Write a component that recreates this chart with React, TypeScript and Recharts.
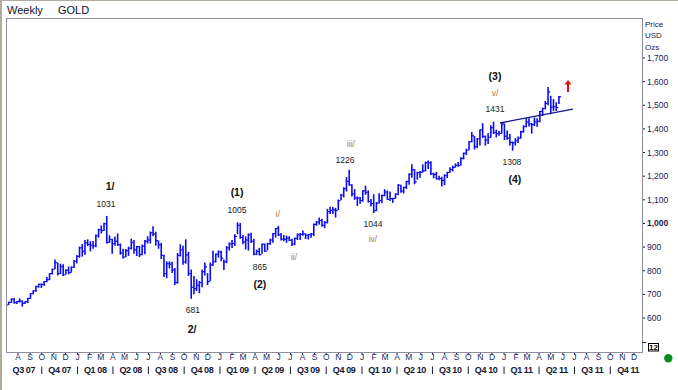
import React from "react";
import {
  ComposedChart,
  Bar,
  XAxis,
  YAxis,
  ReferenceLine,
  ReferenceDot,
} from "recharts";

const FONT = '"Liberation Sans", Arial, sans-serif';
const BAR_BLUE = "#0c0cf0";
const INK = "#141838";

// weekly bars, week 0 = 2 Jul 2007
const HIGH = [
  664,
  669, 683, 685, 672, 683, 675, 671, 685, 705, 717, 737, 745, 746, 757, 773, 790, 809, 848, 834, 830, 827, 806, 818, 818, 845, 866,
  902, 913, 930, 933, 925, 926, 953, 978, 992, 1003, 1032, 950, 935, 945, 958, 915, 893, 892, 902, 936, 930, 905, 905, 911, 930, 946,
  966, 988, 965, 928, 918, 868, 840, 840, 838, 812, 875, 912, 906, 933, 880, 805, 778, 764, 757, 805, 835, 790, 835, 885, 873, 886,
  885, 848, 905, 920, 930, 955, 1005, 1002, 951, 945, 958, 961, 935, 890, 897, 915, 915, 918, 935, 960, 981, 990, 960, 951, 948, 946,
  935, 940, 958, 960, 970, 958, 955, 960, 1000, 1010, 1025, 1020, 1010, 1062, 1071, 1070, 1066, 1101, 1125, 1153, 1196, 1227, 1166, 1145, 1114, 1112,
  1140, 1160, 1140, 1104, 1124, 1091, 1128, 1123, 1145, 1139, 1135, 1108, 1128, 1167, 1164, 1155, 1180, 1212, 1250, 1230, 1219, 1222, 1250, 1262, 1266, 1263,
  1215, 1218, 1202, 1198, 1208, 1218, 1238, 1245, 1254, 1260, 1280, 1300, 1316, 1349, 1387, 1370, 1361, 1398, 1424, 1372, 1382, 1415, 1431, 1397, 1392, 1424,
  1423, 1393, 1378, 1347, 1361, 1368, 1392, 1415, 1446, 1445, 1425, 1448, 1445, 1476, 1490, 1518, 1577, 1540, 1526, 1513, 1539,
];

const LOW = [
  647,
  655, 664, 660, 659, 665, 648, 659, 663, 680, 700, 710, 728, 727, 735, 751, 760, 784, 806, 780, 786, 778, 784, 785, 792, 812, 831,
  855, 860, 868, 904, 882, 893, 899, 940, 958, 968, 915, 918, 872, 906, 905, 868, 852, 857, 863, 890, 872, 862, 858, 866, 870, 915,
  915, 946, 906, 893, 849, 773, 768, 810, 790, 740, 745, 860, 825, 830, 778, 681, 700, 714, 705, 730, 780, 740, 756, 820, 835, 855,
  840, 803, 832, 885, 896, 905, 955, 935, 912, 890, 885, 917, 865, 866, 865, 872, 880, 886, 910, 918, 940, 947, 928, 925, 918, 925,
  905, 908, 930, 930, 948, 934, 932, 940, 947, 990, 995, 986, 980, 1000, 1040, 1040, 1025, 1057, 1098, 1110, 1135, 1160, 1114, 1100, 1074, 1083,
  1092, 1121, 1088, 1072, 1044, 1052, 1084, 1086, 1115, 1100, 1095, 1087, 1105, 1120, 1130, 1127, 1146, 1164, 1193, 1166, 1185, 1193, 1215, 1220, 1230, 1205,
  1191, 1186, 1183, 1156, 1162, 1192, 1214, 1220, 1236, 1240, 1245, 1271, 1290, 1310, 1343, 1313, 1318, 1330, 1362, 1329, 1336, 1363, 1378, 1364, 1371, 1380,
  1353, 1354, 1330, 1308, 1329, 1340, 1358, 1384, 1407, 1410, 1380, 1412, 1409, 1428, 1455, 1483, 1500, 1462, 1475, 1476, 1505,
];

const CLOSE = [
  655,
  666, 680, 665, 670, 672, 662, 669, 683, 703, 715, 733, 743, 742, 754, 762, 788, 806, 834, 788, 817, 783, 802, 792, 815, 840, 861,
  897, 882, 918, 911, 908, 905, 948, 974, 970, 999, 920, 932, 914, 925, 910, 875, 858, 885, 895, 920, 888, 902, 868, 904, 925, 930,
  960, 955, 927, 910, 865, 788, 830, 828, 803, 750, 865, 888, 837, 867, 788, 730, 724, 738, 750, 796, 816, 754, 825, 838, 870, 880,
  853, 838, 897, 913, 915, 945, 992, 941, 922, 930, 952, 925, 870, 882, 868, 912, 883, 914, 930, 957, 979, 952, 934, 933, 938, 929,
  913, 937, 952, 954, 956, 950, 953, 955, 996, 1006, 1012, 992, 1004, 1050, 1055, 1057, 1055, 1096, 1120, 1147, 1178, 1163, 1125, 1108, 1107, 1097,
  1138, 1132, 1093, 1084, 1054, 1086, 1097, 1118, 1133, 1102, 1105, 1106, 1124, 1162, 1137, 1153, 1178, 1208, 1227, 1176, 1215, 1217, 1223, 1257, 1256, 1210,
  1207, 1189, 1190, 1182, 1203, 1216, 1228, 1237, 1246, 1245, 1275, 1297, 1310, 1346, 1371, 1325, 1358, 1396, 1368, 1353, 1364, 1405, 1385, 1380, 1381, 1421,
  1369, 1361, 1343, 1341, 1350, 1361, 1388, 1410, 1429, 1421, 1418, 1430, 1432, 1474, 1486, 1508, 1556, 1492, 1494, 1490, 1536,
];

const Y_TICKS = [600, 700, 800, 900, 1000, 1100, 1200, 1300, 1400, 1500, 1600, 1700];
const MONTH_LETTERS = ["J", "F", "M", "A", "M", "J", "J", "A", "S", "O", "N", "D"];
const QUARTER_LABELS = [
  "Q3 07", "Q4 07",
  "Q1 08", "Q2 08", "Q3 08", "Q4 08",
  "Q1 09", "Q2 09", "Q3 09", "Q4 09",
  "Q1 10", "Q2 10", "Q3 10", "Q4 10",
  "Q1 11", "Q2 11", "Q3 11", "Q4 11",
];

// elliott wave notes: [week, price, text, kind]
const NOTES: [number, number, string, string][] = [
  [38.1, 1158, "1/", "wave"],
  [36.6, 1082, "1031", "num"],
  [68.5, 634, "681", "num"],
  [68.2, 553, "2/", "wave"],
  [84.7, 1133, "(1)", "wave"],
  [84.7, 1057, "1005", "num"],
  [93.1, 816, "865", "num"],
  [93.1, 744, "(2)", "wave"],
  [99.7, 1040, "i/", "minor"],
  [105.6, 858, "ii/", "minor"],
  [126.5, 1336, "iii/", "minor"],
  [124.3, 1268, "1226", "num"],
  [134.6, 998, "1044", "num"],
  [134.6, 934, "iv/", "minor"],
  [179.4, 1624, "(3)", "wave"],
  [179.4, 1552, "v/", "minor"],
  [179.4, 1484, "1431", "num"],
  [185.6, 1260, "1308", "num"],
  [186.7, 1188, "(4)", "wave"],
];

const TREND_FROM = { x: 181.2, y: 1425 };
const TREND_TO = { x: 208, y: 1484 };
const ARROW_AT = { x: 206.2, y: 1581 };

const X_DOMAIN = [-0.12, 233.36];
const Y_DOMAIN = [456.2, 1869.2];

const data = HIGH.map((h, i) => ({ week: i, range: [LOW[i], h], close: CLOSE[i] }));

const START = Date.UTC(2007, 6, 2);
const toWeek = (y: number, m: number) => (Date.UTC(y, m, 1) - START) / (7 * 864e5);

const months: { week: number; letter: string; qStart: boolean }[] = [];
for (let k = 1; k <= 53; k++) {
  const m = (6 + k) % 12;
  const y = 2007 + Math.floor((6 + k) / 12);
  months.push({ week: toWeek(y, m), letter: MONTH_LETTERS[m], qStart: m % 3 === 0 });
}
const quarters = QUARTER_LABELS.map((label, k) => {
  const m0 = 6 + 3 * k;
  const a = toWeek(2007 + Math.floor(m0 / 12), m0 % 12);
  const b = toWeek(2007 + Math.floor((m0 + 3) / 12), (m0 + 3) % 12);
  return { week: (a + b) / 2, label };
});
const monthMap = new Map(months.map((m) => [m.week, m]));
const quarterMap = new Map(quarters.map((q) => [q.week, q]));
const X_TICKS = [...months.map((m) => m.week), ...quarters.map((q) => q.week)];

function XTick(props: any) {
  const { x, y, payload } = props;
  const m = monthMap.get(payload.value);
  if (m) {
    return (
      <g>
        <rect x={x - 0.5} y={y + 1} width={1} height={1.5} fill={INK} />
        <text x={x} y={y + 7.5} textAnchor="middle" fontSize={8.5} fontFamily={FONT} fill="#1a2a66">
          {m.letter}
        </text>
        {m.qStart && (
          <line x1={x} x2={x} y1={y + 14.5} y2={y + 22} stroke={INK} strokeWidth={1} />
        )}
      </g>
    );
  }
  const q = quarterMap.get(payload.value);
  if (!q) return null;
  return (
    <text x={x} y={y + 21} textAnchor="middle" fontSize={9} fontWeight="bold" fontFamily={FONT} fill={INK} letterSpacing={-0.4}>
      {q.label}
    </text>
  );
}

function YTick(props: any) {
  const { x, y, payload } = props;
  return (
    <text x={x} y={y + 3} fontSize={8.5} fontFamily={FONT} fill="#1a2050" fontWeight={payload.value === 1000 ? "bold" : "normal"}>
      {payload.value.toLocaleString("en-US")}
    </text>
  );
}

function HlcBar(props: any) {
  const { x, y, width, height, payload } = props;
  if (x == null || y == null) return null;
  const top = Math.min(y, y + height);
  const h = Math.abs(height);
  const [lo, hi] = payload.range;
  const cx = x + width / 2;
  const cy = top + (hi === lo ? 0 : ((hi - payload.close) / (hi - lo)) * h);
  return (
    <g>
      <line x1={cx} x2={cx} y1={top} y2={top + h} stroke={BAR_BLUE} strokeWidth={1.6} />
      <line x1={cx} x2={cx + 2.2} y1={cy} y2={cy} stroke={BAR_BLUE} strokeWidth={1.2} />
    </g>
  );
}

const noteStyle: Record<string, any> = {
  wave: { fontSize: 10.5, fontWeight: "bold", fill: "#101010" },
  num: { fontSize: 8.5, fontWeight: "normal", fill: "#202020" },
  minor: { fontSize: 8.5, fontWeight: "normal", fill: "#b07840" },
};

export default function App() {
  return (
    <div style={{ position: "absolute", left: 0, top: 0, width: 678, height: 390, background: "#fff" }}>
      <ComposedChart width={678} height={390} data={data} margin={{ top: 18, right: 0, bottom: 0, left: 6 }}>
        <XAxis
          dataKey="week"
          type="number"
          domain={X_DOMAIN}
          allowDataOverflow
          ticks={X_TICKS}
          interval={0}
          tick={(p: any) => <XTick {...p} />}
          tickLine={false}
          axisLine={false}
          tickSize={0}
          tickMargin={0}
          height={38}
        />
        <YAxis
          orientation="right"
          type="number"
          domain={Y_DOMAIN}
          allowDataOverflow
          ticks={Y_TICKS}
          interval={0}
          width={36}
          tickSize={3}
          tickMargin={2}
          axisLine={false}
          tickLine={{ stroke: INK }}
          tick={(p: any) => <YTick {...p} />}
        />
        <Bar dataKey="range" barSize={2} shape={(p: any) => <HlcBar {...p} />} isAnimationActive={false} />
        <ReferenceLine segment={[TREND_FROM, TREND_TO]} stroke="#14148a" strokeWidth={1.3} ifOverflow="visible" />
        {NOTES.map(([wk, price, text, kind]) => (
          <ReferenceDot
            key={text + wk}
            x={wk}
            y={price}
            r={0}
            ifOverflow="visible"
            shape={(p: any) => (
              <text x={p.cx} y={p.cy} textAnchor="middle" dominantBaseline="central" fontFamily={FONT} {...noteStyle[kind]}>
                {text}
              </text>
            )}
          />
        ))}
        <ReferenceDot
          x={ARROW_AT.x}
          y={ARROW_AT.y}
          r={0}
          ifOverflow="visible"
          shape={(p: any) => (
            <path
              d={`M${p.cx},${p.cy - 6} L${p.cx + 3.5},${p.cy - 1.5} L${p.cx + 1},${p.cy - 1.5} L${p.cx + 1},${p.cy + 6} L${p.cx - 1},${p.cy + 6} L${p.cx - 1},${p.cy - 1.5} L${p.cx - 3.5},${p.cy - 1.5} Z`}
              fill="#e01010"
            />
          )}
        />
      </ComposedChart>
      <svg width={678} height={390} style={{ position: "absolute", left: 0, top: 0, pointerEvents: "none" }}>
        <rect x={0} y={0} width={2} height={390} fill="#b0ada0" />
        <rect x={0} y={0} width={678} height={1} fill="#b0ada0" />
        <rect x={6.5} y={18.5} width={636} height={334} fill="none" stroke="#8e8ea0" strokeWidth={1} />
        <text x={7} y={14} fontSize={11} fontFamily={FONT} fill="#10102a">Weekly</text>
        <text x={58} y={14} fontSize={11} fontFamily={FONT} fill="#10102a">GOLD</text>
        <text x={645} y={27} fontSize={8} fontFamily={FONT} fill="#1a2050">Price</text>
        <text x={645} y={38} fontSize={8} fontFamily={FONT} fill="#1a2050">USD</text>
        <text x={645} y={49.5} fontSize={8} fontFamily={FONT} fill="#1a2050">Ozs</text>
        <line x1={642} x2={646} y1={342.5} y2={342.5} stroke={INK} />
        <rect x={648.5} y={343.5} width={10} height={7.5} fill="#fff" stroke="#000" strokeWidth={1} />
        <text x={653.5} y={350} textAnchor="middle" fontSize={8} fontWeight="bold" fontFamily={FONT} fill="#000">12</text>
        <circle cx={668.3} cy={358.3} r={4.2} fill="#0a8a1a" />
      </svg>
    </div>
  );
}
